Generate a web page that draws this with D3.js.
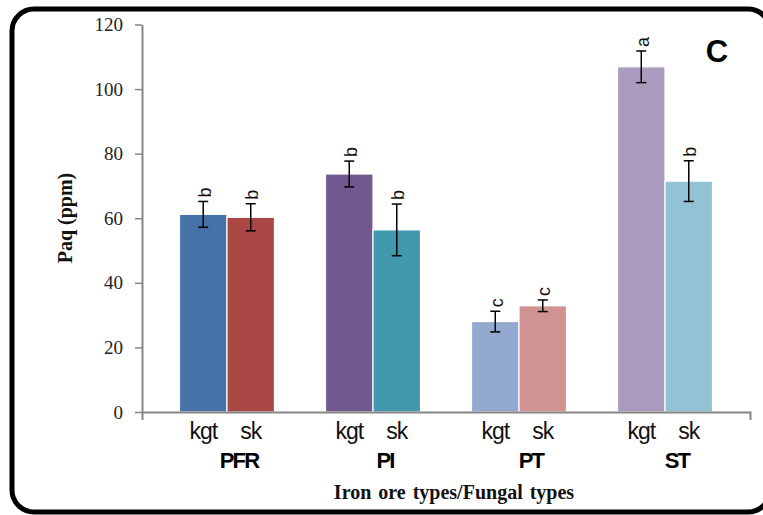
<!DOCTYPE html>
<html>
<head>
<meta charset="utf-8">
<script src="https://cdn.jsdelivr.net/npm/d3@7"></script>
<style>
  body { margin: 0; background: #fff; }
  svg { display: block; }
  .ytick text { font-family: "Liberation Serif", "Times New Roman", serif; font-size: 19px; fill: #222; }
</style>
</head>
<body>
<div id="chart"></div>
<script>
var width = 763,
    height = 515;

// data
var groups = ["PFR", "PI", "PT", "ST"];
var series = ["kgt", "sk"];
var kgtValues = [61.2, 73.7, 28.0, 106.9];
var skValues = [60.3, 56.4, 32.9, 71.5];
var kgtErrors = [4.0, 4.0, 3.2, 4.9];
var skErrors = [4.2, 8.0, 1.8, 6.3];
var kgtLetters = ["b", "b", "c", "a"];
var skLetters = ["b", "b", "c", "b"];
var yTicks = [0, 20, 40, 60, 80, 100, 120];
var colors = [["#4572A7", "#AA4643"], ["#71588F", "#4198AF"], ["#93A9CF", "#D19392"], ["#A99BBD", "#92C3D5"]];

var rows = [];
groups.forEach(function(g, i) {
  rows.push({ group: g, series: "kgt", value: kgtValues[i], err: kgtErrors[i], letter: kgtLetters[i], color: colors[i][0] });
  rows.push({ group: g, series: "sk", value: skValues[i], err: skErrors[i], letter: skLetters[i], color: colors[i][1] });
});

var svg = d3.select("#chart")
    .append("svg")
    .attr("width", width)
    .attr("height", height);

// rounded frame
svg.append("rect")
    .attr("x", 12)
    .attr("y", 9)
    .attr("width", 758)
    .attr("height", 503)
    .attr("rx", 22)
    .attr("fill", "none")
    .attr("stroke", "#000")
    .attr("stroke-width", 5);

var y = d3.scaleLinear()
    .domain([0, 120])
    .range([412, 24.5]);

var x0 = d3.scaleBand()
    .domain(groups)
    .range([142, 750])
    .paddingInner(0)
    .paddingOuter(0.082);

var bw = x0.bandwidth();
var x1 = d3.scaleBand()
    .domain(series)
    .range([bw / 2 - 47.5, bw / 2 + 47.5])
    .padding(0);

// y axis
var yAxis = svg.append("g")
    .attr("class", "ytick")
    .attr("transform", "translate(142,0)")
    .call(d3.axisLeft(y).tickValues(yTicks).tickSize(7).tickPadding(12).tickSizeOuter(0));
yAxis.selectAll("line").attr("stroke", "#868686").attr("stroke-width", 1.5);
yAxis.select(".domain").attr("stroke", "#868686").attr("stroke-width", 2);

// bars
var bars = svg.selectAll(".bar")
    .data(rows)
    .enter().append("g")
      .attr("class", "bar")
      .attr("transform", function(d) { return "translate(" + (x0(d.group) + x1(d.series)) + ",0)"; });

bars.append("rect")
    .attr("x", 0)
    .attr("y", function(d) { return y(d.value); })
    .attr("width", x1.bandwidth())
    .attr("height", function(d) { return y(0) - y(d.value); })
    .attr("fill", function(d) { return d.color; })
    .attr("stroke", "#fff")
    .attr("stroke-width", 1.2);

// x axis (after bars so the line sits on top)
var xAxis = svg.append("g")
    .attr("transform", "translate(0,412)")
    .call(d3.axisBottom(x0).tickValues([]).tickSizeOuter(8));
xAxis.select(".domain").attr("stroke", "#868686").attr("stroke-width", 2);

// error bars
var cx = x1.bandwidth() / 2;
bars.append("line")
    .attr("x1", cx).attr("x2", cx)
    .attr("y1", function(d) { return y(d.value + d.err); })
    .attr("y2", function(d) { return y(d.value - d.err); })
    .attr("stroke", "#000").attr("stroke-width", 1.5);
bars.append("line")
    .attr("x1", cx - 5).attr("x2", cx + 5)
    .attr("y1", function(d) { return y(d.value + d.err); })
    .attr("y2", function(d) { return y(d.value + d.err); })
    .attr("stroke", "#000").attr("stroke-width", 1.5);
bars.append("line")
    .attr("x1", cx - 5).attr("x2", cx + 5)
    .attr("y1", function(d) { return y(d.value - d.err); })
    .attr("y2", function(d) { return y(d.value - d.err); })
    .attr("stroke", "#000").attr("stroke-width", 1.5);

// significance letters, rotated
bars.append("text")
    .attr("transform", function(d) { return "translate(" + (cx + 1) + "," + (y(d.value + d.err) - 4) + ") rotate(-90)"; })
    .attr("dy", "0.35em")
    .attr("font-family", "'Liberation Sans', Arial, sans-serif")
    .attr("font-size", 18)
    .attr("fill", "#111")
    .text(function(d) { return d.letter; });

// series labels under each bar
bars.append("text")
    .attr("x", cx)
    .attr("y", 439)
    .attr("text-anchor", "middle")
    .attr("font-family", "'Liberation Sans', Arial, sans-serif")
    .attr("font-size", 23)
    .attr("letter-spacing", -1)
    .attr("fill", "#111")
    .text(function(d) { return d.series; });

// group labels
svg.selectAll(".glabel")
    .data(groups)
    .enter().append("text")
      .attr("class", "glabel")
      .attr("x", function(d) { return x0(d) + bw / 2 + 12; })
      .attr("y", 468)
      .attr("text-anchor", "middle")
      .attr("font-family", "'Liberation Sans', Arial, sans-serif")
      .attr("font-weight", "bold")
      .attr("font-size", 22)
      .attr("letter-spacing", -1.8)
      .attr("fill", "#000")
      .text(function(d) { return d; });

// axis titles
svg.append("text")
    .attr("x", 454)
    .attr("y", 499)
    .attr("text-anchor", "middle")
    .attr("font-family", "'Liberation Serif', 'Times New Roman', serif")
    .attr("font-weight", "bold")
    .attr("font-size", 20)
    .attr("word-spacing", 2)
    .attr("fill", "#111")
    .text("Iron ore types/Fungal types");

svg.append("text")
    .attr("transform", "translate(72,218) rotate(-90)")
    .attr("text-anchor", "middle")
    .attr("font-family", "'Liberation Serif', 'Times New Roman', serif")
    .attr("font-weight", "bold")
    .attr("font-size", 20)
    .attr("fill", "#111")
    .text("Paq (ppm)");

// panel letter
svg.append("text")
    .attr("x", 717)
    .attr("y", 62)
    .attr("text-anchor", "middle")
    .attr("font-family", "'Liberation Sans', Arial, sans-serif")
    .attr("font-weight", "bold")
    .attr("font-size", 31)
    .attr("fill", "#000")
    .text("C");
</script>
</body>
</html>
